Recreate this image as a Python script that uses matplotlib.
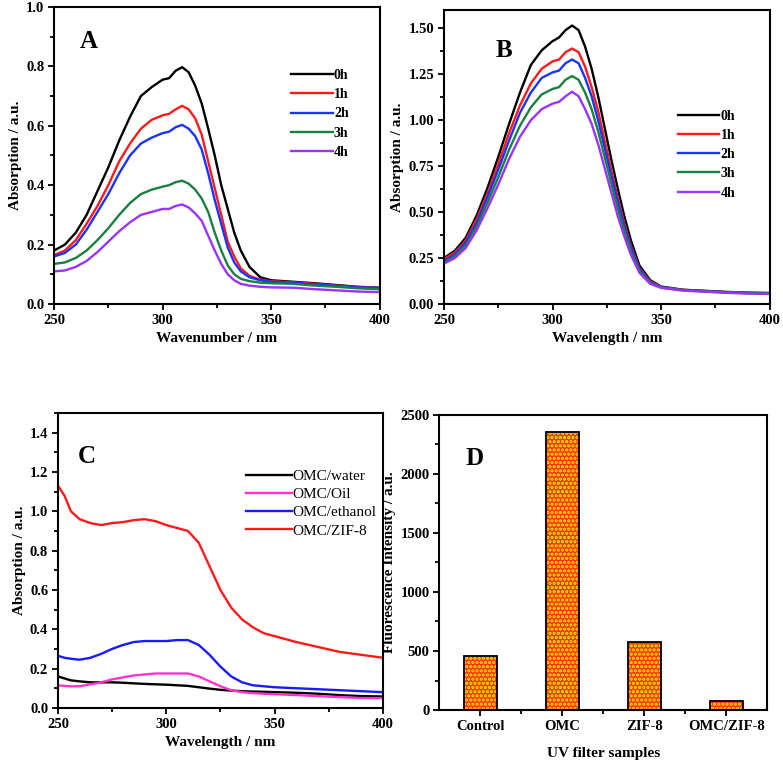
import matplotlib
matplotlib.use("Agg")
import matplotlib.pyplot as plt
from matplotlib.ticker import MultipleLocator, FixedLocator

plt.rcParams['font.family'] = ['Liberation Serif', 'DejaVu Serif']
plt.rcParams['font.weight'] = 'bold'
plt.rcParams['hatch.linewidth'] = 1.6

# wavelength grid shared by panels A and B
wl_ab = [250, 255, 260, 265, 270, 275, 280, 285, 290, 295, 300, 303, 306, 309, 312, 315,
         318, 321, 324, 327, 330, 333, 336, 340, 345, 350, 360, 370, 380, 390, 400]

# ---- panel A: absorption vs time ----
a_0h = [0.18, 0.20, 0.24, 0.30, 0.38, 0.46, 0.55, 0.63, 0.70, 0.73, 0.755, 0.76, 0.785, 0.797, 0.78, 0.735,
        0.675, 0.59, 0.50, 0.40, 0.32, 0.24, 0.18, 0.125, 0.09, 0.08, 0.075, 0.07, 0.064, 0.058, 0.055]
a_1h = [0.165, 0.18, 0.215, 0.27, 0.33, 0.40, 0.48, 0.54, 0.59, 0.62, 0.635, 0.64, 0.655, 0.667, 0.655, 0.625,
        0.57, 0.48, 0.39, 0.30, 0.21, 0.16, 0.12, 0.095, 0.082, 0.077, 0.073, 0.068, 0.062, 0.057, 0.054]
a_2h = [0.16, 0.172, 0.20, 0.25, 0.31, 0.37, 0.44, 0.50, 0.54, 0.56, 0.575, 0.58, 0.595, 0.603, 0.59, 0.565,
        0.52, 0.44, 0.35, 0.27, 0.19, 0.14, 0.11, 0.09, 0.08, 0.075, 0.072, 0.066, 0.061, 0.056, 0.054]
a_3h = [0.135, 0.14, 0.155, 0.18, 0.215, 0.255, 0.30, 0.34, 0.37, 0.385, 0.395, 0.40, 0.41, 0.415, 0.405, 0.385,
        0.355, 0.31, 0.24, 0.18, 0.13, 0.10, 0.085, 0.077, 0.072, 0.07, 0.068, 0.062, 0.058, 0.053, 0.05]
a_4h = [0.11, 0.113, 0.125, 0.145, 0.175, 0.21, 0.245, 0.275, 0.30, 0.31, 0.32, 0.32, 0.33, 0.335, 0.325, 0.305,
        0.28, 0.23, 0.18, 0.135, 0.10, 0.08, 0.068, 0.062, 0.058, 0.056, 0.055, 0.05, 0.046, 0.042, 0.04]

# ---- panel B ----
b_0h = [0.25, 0.29, 0.36, 0.48, 0.63, 0.80, 0.98, 1.15, 1.30, 1.38, 1.43, 1.45, 1.49, 1.515, 1.49, 1.40,
        1.28, 1.13, 0.96, 0.79, 0.63, 0.48, 0.35, 0.21, 0.13, 0.095, 0.078, 0.072, 0.066, 0.062, 0.06]
b_1h = [0.245, 0.28, 0.345, 0.46, 0.60, 0.76, 0.93, 1.08, 1.20, 1.28, 1.32, 1.33, 1.37, 1.39, 1.37, 1.29,
        1.18, 1.05, 0.89, 0.73, 0.58, 0.44, 0.32, 0.195, 0.125, 0.093, 0.077, 0.071, 0.065, 0.061, 0.059]
b_2h = [0.235, 0.27, 0.335, 0.44, 0.58, 0.73, 0.89, 1.04, 1.15, 1.23, 1.26, 1.27, 1.31, 1.33, 1.31, 1.23,
        1.13, 1.00, 0.85, 0.70, 0.56, 0.425, 0.31, 0.19, 0.12, 0.092, 0.076, 0.07, 0.064, 0.06, 0.058]
b_3h = [0.225, 0.26, 0.32, 0.42, 0.55, 0.69, 0.84, 0.97, 1.07, 1.14, 1.17, 1.18, 1.22, 1.24, 1.22, 1.15,
        1.06, 0.94, 0.80, 0.66, 0.52, 0.40, 0.29, 0.18, 0.115, 0.09, 0.075, 0.069, 0.063, 0.059, 0.057]
b_4h = [0.22, 0.25, 0.305, 0.40, 0.52, 0.65, 0.79, 0.91, 1.00, 1.06, 1.09, 1.10, 1.13, 1.155, 1.13, 1.06,
        0.98, 0.87, 0.74, 0.61, 0.48, 0.37, 0.27, 0.17, 0.11, 0.088, 0.073, 0.067, 0.061, 0.057, 0.055]

# ---- panel C ----
wl_c = [250, 253, 256, 260, 265, 270, 275, 280, 285, 290, 295, 300, 305, 310, 315, 320, 325,
        330, 335, 340, 345, 350, 360, 370, 380, 390, 400]
c_water = [0.16, 0.15, 0.14, 0.135, 0.13, 0.13, 0.13, 0.128, 0.125, 0.122, 0.12, 0.118, 0.115, 0.112,
           0.105, 0.098, 0.092, 0.088, 0.085, 0.083, 0.082, 0.08, 0.077, 0.072, 0.065, 0.06, 0.058]
c_oil = [0.115, 0.112, 0.11, 0.11, 0.12, 0.13, 0.145, 0.155, 0.165, 0.17, 0.175, 0.175, 0.175, 0.175,
         0.16, 0.135, 0.11, 0.09, 0.08, 0.075, 0.072, 0.07, 0.065, 0.06, 0.055, 0.05, 0.05]
c_ethanol = [0.265, 0.255, 0.25, 0.245, 0.255, 0.275, 0.30, 0.32, 0.335, 0.34, 0.34, 0.34, 0.345, 0.345,
             0.32, 0.27, 0.21, 0.16, 0.13, 0.115, 0.11, 0.105, 0.10, 0.095, 0.09, 0.085, 0.08]
c_zif8 = [1.13, 1.08, 1.00, 0.96, 0.94, 0.93, 0.94, 0.945, 0.955, 0.96, 0.95, 0.93, 0.915, 0.90,
          0.84, 0.72, 0.60, 0.51, 0.45, 0.41, 0.38, 0.365, 0.335, 0.31, 0.285, 0.27, 0.255]

# ---- panel D ----
samples = ["Control", "OMC", "ZIF-8", "OMC/ZIF-8"]
intensity = [455, 2355, 580, 80]

fig = plt.figure(figsize=(7.83, 7.62), dpi=100)
axA = fig.add_axes([0.069, 0.601, 0.416, 0.390])
axB = fig.add_axes([0.567, 0.601, 0.416, 0.386])
axC = fig.add_axes([0.074, 0.071, 0.415, 0.387])
axD = fig.add_axes([0.561, 0.068, 0.419, 0.388])

cols = ["black", "#ff1a1a", "#1a33ff", "#1a8040", "#9933ff"]
hours = ["0h", "1h", "2h", "3h", "4h"]
TICK = 10.5
LAB = 11


def style(ax):
    for s in ax.spines.values():
        s.set_linewidth(1.5)
    ax.tick_params(which='both', direction='out', width=1.3, labelsize=TICK, pad=2.5)
    ax.tick_params(which='major', length=4.5)
    ax.tick_params(which='minor', length=3)
    for lab in ax.get_xticklabels() + ax.get_yticklabels():
        lab.set_fontweight('bold')


for ys, c, h in zip([a_0h, a_1h, a_2h, a_3h, a_4h], cols, hours):
    axA.plot(wl_ab, ys, color=c, lw=1.7, label=h)
axA.set_xlim(250, 400)
axA.set_ylim(0, 1.0)
axA.xaxis.set_major_locator(MultipleLocator(50))
axA.xaxis.set_minor_locator(MultipleLocator(25))
axA.yaxis.set_major_locator(MultipleLocator(0.2))
axA.yaxis.set_minor_locator(MultipleLocator(0.1))
axA.set_xlabel("Wavenumber / nm", fontsize=LAB, fontweight='bold')
axA.set_ylabel("Absorption / a.u.", fontsize=LAB, fontweight='bold', labelpad=3)
axA.text(0.08, 0.86, "A", transform=axA.transAxes, fontsize=18, fontweight='bold')
axA.legend(loc='upper left', bbox_to_anchor=(0.71, 0.81), frameon=False, fontsize=10,
           handlelength=3.0, handletextpad=0.1, labelspacing=0.45, borderaxespad=0)
style(axA)

for ys, c, h in zip([b_0h, b_1h, b_2h, b_3h, b_4h], cols, hours):
    axB.plot(wl_ab, ys, color=c, lw=1.7, label=h)
axB.set_xlim(250, 400)
axB.set_ylim(0, 1.6)
axB.xaxis.set_major_locator(MultipleLocator(50))
axB.xaxis.set_minor_locator(MultipleLocator(25))
axB.yaxis.set_major_locator(MultipleLocator(0.25))
axB.yaxis.set_minor_locator(MultipleLocator(0.125))
axB.yaxis.set_major_formatter(matplotlib.ticker.FormatStrFormatter('%.2f'))
axB.set_xlabel("Wavelength / nm", fontsize=LAB, fontweight='bold')
axB.set_ylabel("Absorption / a.u.", fontsize=LAB, fontweight='bold', labelpad=3)
axB.text(0.16, 0.84, "B", transform=axB.transAxes, fontsize=18, fontweight='bold')
axB.legend(loc='upper left', bbox_to_anchor=(0.70, 0.68), frameon=False, fontsize=10,
           handlelength=3.0, handletextpad=0.1, labelspacing=0.45, borderaxespad=0)
style(axB)

for ys, c, lab in zip([c_water, c_oil, c_ethanol, c_zif8], ["black", "#ff33cc", "#1a1aff", "#ff1a1a"],
                      ["OMC/water", "OMC/Oil", "OMC/ethanol", "OMC/ZIF-8"]):
    axC.plot(wl_c, ys, color=c, lw=1.7, label=lab)
axC.set_xlim(250, 400)
axC.set_ylim(0, 1.5)
axC.xaxis.set_major_locator(MultipleLocator(50))
axC.xaxis.set_minor_locator(MultipleLocator(25))
axC.yaxis.set_major_locator(MultipleLocator(0.2))
axC.yaxis.set_minor_locator(MultipleLocator(0.1))
axC.set_xlabel("Wavelength / nm", fontsize=LAB, fontweight='bold')
axC.set_ylabel("Absorption / a.u.", fontsize=LAB, fontweight='bold', labelpad=3)
axC.text(0.06, 0.83, "C", transform=axC.transAxes, fontsize=18, fontweight='bold')
axC.legend(loc='upper left', bbox_to_anchor=(0.56, 0.83), frameon=False,
           prop={'size': 11, 'weight': 'normal'},
           handlelength=3.0, handletextpad=0.05, labelspacing=0.3, borderaxespad=0)
style(axC)

pos = list(range(1, len(samples) + 1))
axD.bar(pos, intensity, width=0.4, color="#ff3300", edgecolor="#e8f000", hatch="....", lw=0)
axD.bar(pos, intensity, width=0.4, color="none", edgecolor="black", lw=1.3)
axD.set_xlim(0.5, 4.5)
axD.set_ylim(0, 2500)
axD.set_xticks(pos)
axD.set_xticklabels(samples)
axD.xaxis.set_minor_locator(FixedLocator([1.5, 2.5, 3.5]))
axD.yaxis.set_major_locator(MultipleLocator(500))
axD.yaxis.set_minor_locator(MultipleLocator(250))
axD.set_xlabel("UV filter samples", fontsize=LAB, fontweight='bold', labelpad=10)
axD.set_ylabel("Fluorescence Intensity / a.u.", fontsize=LAB, fontweight='bold', labelpad=3)
axD.text(0.08, 0.83, "D", transform=axD.transAxes, fontsize=18, fontweight='bold')
style(axD)

fig.savefig("out.png", dpi=100)
